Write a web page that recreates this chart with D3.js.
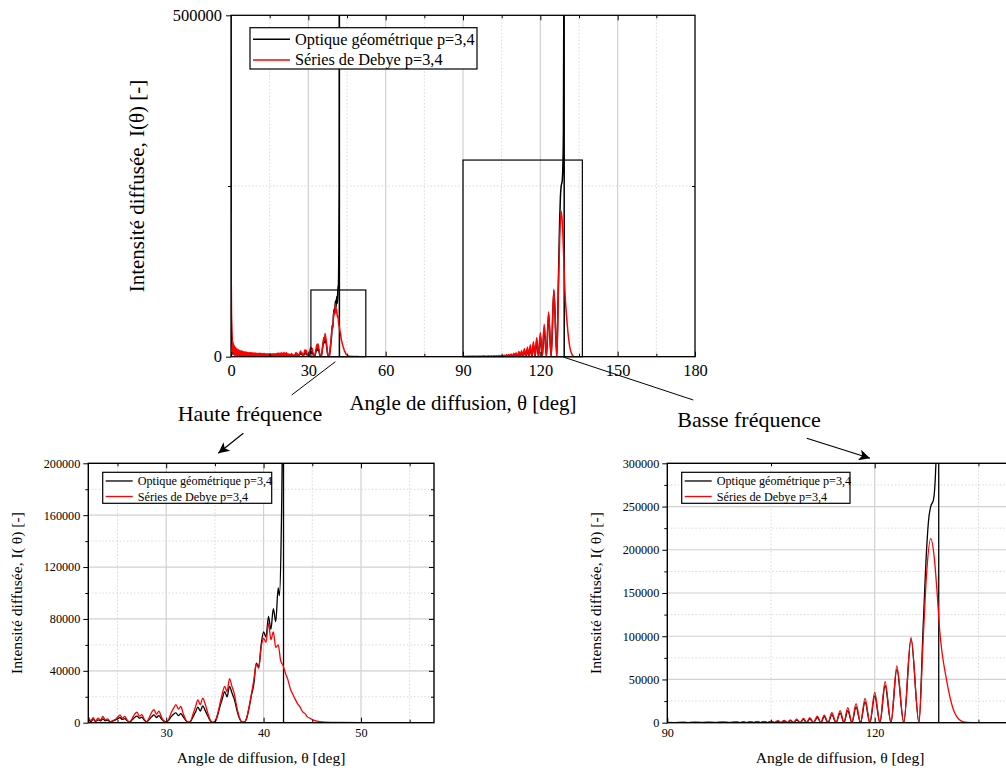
<!DOCTYPE html>
<html><head><meta charset="utf-8">
<script src="https://cdn.jsdelivr.net/npm/d3@7"></script>
<style>
body{margin:0;background:#fff}
svg{display:block}
svg text{font-family:"Liberation Serif","Times New Roman",Times,serif !important;fill:#000}
</style>
</head><body>
<svg id="c" width="1006" height="771"></svg>
<script>
// ---------------- DATA (angle in deg, intensity) ----------------
const seriesNames  = ["Optique géométrique p=3,4", "Séries de Debye p=3,4"];
const seriesColors = ["#000000", "#ff0000"];

// Debye series, forward region 0–22°
const debyeNear = [[0,212000],[0.05,150000],[0.1,110000],[0.2,65000],[0.3,45000],[0.4,33000],[0.5,26000],[0.62,6000],[0.75,22000],[0.88,4000],[1.0,19000],[1.12,3500],[1.25,16500],[1.38,3000],[1.5,15000],[1.62,2500],[1.75,13500],[1.88,2200],[2.0,12500],[2.25,2000],[2.5,11000],[2.75,1800],[3.0,10000],[3.25,1600],[3.5,9200],[3.75,1500],[4.0,8600],[4.25,1400],[4.5,8000],[4.75,1300],[5.0,7600],[5.25,1200],[5.5,7200],[5.75,1100],[6.0,6900],[6.25,1000],[6.5,6600],[6.75,1000],[7.0,6300],[7.25,900],[7.5,6100],[7.75,900],[8.0,5900],[8.25,900],[8.5,5700],[8.75,800],[9.0,5500],[9.25,800],[9.5,5400],[9.75,800],[10.0,5200],[10.25,800],[10.5,5100],[10.75,700],[11.0,5000],[11.25,700],[11.5,4900],[11.75,700],[12.0,4800],[12.25,700],[12.5,4700],[12.75,700],[13.0,4600],[13.25,600],[13.5,4500],[13.75,600],[14.0,4500],[14.25,600],[14.5,4400],[14.75,600],[15.0,4400],[15.25,600],[15.5,4300],[15.75,500],[16.0,4300],[16.25,500],[16.5,4400],[16.75,500],[17.0,4500],[17.25,500],[17.5,4800],[17.75,500],[18.0,5200],[18.25,500],[18.5,5600],[18.75,500],[19.0,5000],[19.25,400],[19.5,6000],[19.75,500],[20.0,5200],[20.25,400],[20.5,6500],[20.75,500],[21.0,5500],[21.25,400],[21.5,6000],[21.75,600]];

// Debye series, high-frequency region 22–90°
const debyeHF = [[22.0,4200],[22.25,1500],[22.5,3800],[22.75,1200],[23.0,3500],[23.25,2000],[23.5,4800],[23.75,2200],[24.0,3000],[24.25,800],[24.5,1500],[24.75,2500],[25.0,4200],[25.25,6000],[25.5,3500],[25.75,4800],[26.0,1800],[26.25,600],[26.5,3200],[26.75,6500],[27.0,8200],[27.25,5000],[27.5,6200],[27.75,2500],[28.0,800],[28.25,3800],[28.5,8000],[28.75,10000],[29.0,6500],[29.25,9000],[29.5,4500],[29.75,1500],[30.0,600],[30.25,2500],[30.5,7500],[30.75,11000],[31.0,14000],[31.25,10500],[31.5,12500],[31.75,7000],[32.0,2500],[32.25,400],[32.5,1200],[32.75,6500],[33.0,12000],[33.25,17500],[33.5,14000],[33.75,19000],[34.0,14500],[34.25,8000],[34.5,2500],[34.75,200],[35.0,800],[35.25,6000],[35.5,14000],[35.75,22000],[36.0,28000],[36.25,24000],[36.5,34000],[36.75,28000],[37.0,22000],[37.25,12000],[37.5,4500],[37.75,800],[38.0,500],[38.25,3500],[38.5,12000],[38.75,22000],[39.0,33000],[39.25,45000],[39.5,42000],[39.75,58000],[40.0,65000],[40.25,62000],[40.5,77000],[40.75,64000],[41.0,70000],[41.25,58000],[41.5,60000],[41.75,48000],[42.0,44000],[42.25,38000],[42.5,33000],[42.75,26000],[43.0,22000],[43.25,18000],[43.5,14500],[43.75,12000],[44.0,8500],[44.25,7000],[44.5,4500],[44.75,3500],[45.0,2400],[45.5,1200],[46.0,600],[47.0,250],[48.0,150],[50.0,100],[55.0,80],[60.0,60],[70.0,50],[80.0,50],[89.5,60]];

// Debye series, low-frequency region 90–180°
const debyeLF = [[90,300],[91,150],[92,400],[93,200],[94,500],[95,250],[96,600],[97,300],[98,700],[99,300],[100,900],[100.5,200],[101,1000],[101.5,200],[102,1200],[102.5,200],[103,1400],[103.5,200],[104,1600],[104.5,200],[105,1900],[105.5,200],[106,2300],[106.45,150],[106.9,2800],[107.35,150],[107.8,3300],[108.25,100],[108.7,4000],[109.2,100],[109.7,5000],[110.15,100],[110.6,5800],[111.15,80],[111.7,7700],[112.2,60],[112.7,8800],[113.25,50],[113.8,11500],[114.4,40],[115,13900],[115.55,30],[116.1,17400],[116.7,20],[117.3,22000],[117.95,10],[118.6,28200],[119.3,0],[120,35100],[120.75,0],[121.5,47400],[122.35,0],[123.2,65600],[124.2,0],[125.25,98700],[126.4,0],[127.0,95000],[127.5,172000],[128.1,213000],[128.6,192000],[129.0,153000],[129.4,107000],[130.4,49000],[131.4,14700],[132.3,3000],[133,500],[134,100],[136,20],[140,0],[180,0]];

// Geometrical optics, forward region 0–22°
const geoNear = [[0,900000],[0.04,150000],[0.1,60000],[0.25,30000],[0.5,15000],[0.75,3000],[1,12000],[1.5,2000],[2,9000],[2.5,1500],[3,7500],[3.5,1200],[4,6500],[4.5,1000],[5,5800],[5.5,900],[6,5200],[6.5,800],[7,4800],[7.5,700],[8,4400],[8.5,700],[9,4100],[9.5,600],[10,3900],[10.5,600],[11,3700],[11.5,600],[12,3500],[12.5,500],[13,3300],[13.5,500],[14,3200],[14.5,500],[15,3100],[15.5,500],[16,3000],[16.5,500],[17,3000],[17.5,400],[18,3100],[18.5,400],[19,3200],[19.5,400],[20,3200],[20.5,400],[21,3300],[21.5,400]];

// Geometrical optics, high-frequency region 22–90°
const geoHF = [[22.0,2500],[22.25,800],[22.5,2500],[22.75,1000],[23.0,2200],[23.25,1500],[23.5,3000],[23.75,1500],[24.0,2000],[24.25,600],[24.5,1200],[24.75,2000],[25.0,3000],[25.25,4000],[25.5,2500],[25.75,3200],[26.0,1500],[26.25,500],[26.5,2200],[26.75,4000],[27.0,5000],[27.25,3500],[27.5,4200],[27.75,2000],[28.0,700],[28.25,2500],[28.5,4500],[28.75,6000],[29.0,4000],[29.25,5500],[29.5,3000],[29.75,1200],[30.0,500],[30.25,2000],[30.5,4500],[30.75,6500],[31.0,7500],[31.25,5500],[31.5,7000],[31.75,4500],[32.0,1800],[32.25,300],[32.5,1000],[32.75,4500],[33.0,8000],[33.25,12000],[33.5,9000],[33.75,13000],[34.0,9500],[34.25,5500],[34.5,1800],[34.75,200],[35.0,700],[35.25,5000],[35.5,12000],[35.75,18000],[36.0,24000],[36.25,20000],[36.5,28000],[36.75,23000],[37.0,18000],[37.25,10000],[37.5,3800],[37.75,700],[38.0,500],[38.25,3000],[38.5,11000],[38.75,21000],[39.0,30000],[39.25,46000],[39.5,43000],[39.75,60000],[40.0,70000],[40.25,66000],[40.5,82000],[40.75,72000],[41.0,88000],[41.25,78000],[41.5,104000],[41.62,98000],[41.8,140000],[41.95,250000],[42.04,900000],[42.05,0],[89.5,0]];

// Geometrical optics, low-frequency region 90–180°
const geoLF = [[90,200],[91,100],[92,300],[93,150],[94,350],[95,200],[96,450],[97,200],[98,500],[99,200],[100,700],[100.5,150],[101,800],[101.5,150],[102,900],[102.5,150],[103,1000],[103.5,150],[104,1200],[104.5,150],[105,1400],[105.5,150],[106,1600],[106.45,100],[106.9,2000],[107.35,100],[107.8,2400],[108.25,80],[108.7,3000],[109.2,80],[109.7,3800],[110.15,60],[110.6,4500],[111.15,50],[111.7,6000],[112.2,40],[112.7,7000],[113.25,30],[113.8,9000],[114.4,20],[115,11000],[115.55,20],[116.1,14000],[116.7,10],[117.3,18000],[117.95,0],[118.6,24000],[119.3,0],[120,31000],[120.75,0],[121.5,43000],[122.35,0],[123.2,62000],[124.2,0],[125.25,97000],[126.4,0],[127.0,110000],[127.5,200000],[127.8,235000],[128.1,250000],[128.5,258000],[128.8,290000],[128.95,330000],[129.1,500000],[129.25,900000],[129.26,0],[180,0]];

// Tick values
const mainXTicks = [0,30,60,90,120,150,180], mainXMinor = [15,45,75,105,135,165];
const mainYTicks = [0,500000], mainYMinor = [250000];
const hfXTicks = [30,40,50], hfXMinor = [25,35,45,55];
const hfYTicks = [0,40000,80000,120000,160000,200000], hfYMinor = [20000,60000,100000,140000,180000];
const lfXTicks = [90,120,150], lfXMinor = [105,135];
const lfYTicks = [0,50000,100000,150000,200000,250000,300000], lfYMinor = [25000,75000,125000,175000,225000,275000];

// Zoom regions marked on the main chart: [θmin, θmax, Imax]
const zoomBoxes = [[31,52.3,97700],[90,136.3,288000]];

// ---------------- DRAWING ----------------
const FONT = '"Liberation Serif","Times New Roman",Times,serif';
const geo = [...geoNear, ...geoHF, ...geoLF];
const debye = [...debyeNear, ...debyeHF, ...debyeLF];
const svg = d3.select("#c");
const defs = svg.append("defs");
defs.append("marker").attr("id","arr").attr("viewBox","0 0 10 10").attr("refX",10).attr("refY",5)
  .attr("markerWidth",17).attr("markerHeight",11).attr("markerUnits","userSpaceOnUse").attr("orient","auto")
  .append("path").attr("d","M0,0L10,5L0,10L2.5,5Z").attr("fill","#000");

function panel(o){
  const x = d3.scaleLinear(o.xDomain,[o.left,o.right]);
  const y = d3.scaleLinear(o.yDomain,[o.bottom,o.top]);
  const g = svg.append("g");
  defs.append("clipPath").attr("id","clip"+o.id).append("rect")
    .attr("x",o.left).attr("y",o.top).attr("width",o.right-o.left).attr("height",o.bottom-o.top);
  const inX = v => v>o.xDomain[0] && v<o.xDomain[1];
  const inY = v => v>o.yDomain[0] && v<o.yDomain[1];
  // grid
  const grid = g.append("g");
  grid.selectAll(".gxm").data(o.xMinor.filter(inX)).join("line")
    .attr("x1",d=>x(d)).attr("x2",d=>x(d)).attr("y1",o.top).attr("y2",o.bottom)
    .attr("stroke","#d8d8d8").attr("stroke-width",1).attr("stroke-dasharray","1.5,2");
  grid.selectAll(".gym").data(o.yMinor.filter(inY)).join("line")
    .attr("y1",d=>y(d)).attr("y2",d=>y(d)).attr("x1",o.left).attr("x2",o.right)
    .attr("stroke","#d8d8d8").attr("stroke-width",1).attr("stroke-dasharray","1.5,2");
  grid.selectAll(".gx").data(o.xTicks.filter(inX)).join("line")
    .attr("x1",d=>x(d)).attr("x2",d=>x(d)).attr("y1",o.top).attr("y2",o.bottom)
    .attr("stroke","#d0d0d0").attr("stroke-width",1.2);
  if (o.yGrid) grid.selectAll(".gy").data(o.yTicks.filter(inY)).join("line")
    .attr("y1",d=>y(d)).attr("y2",d=>y(d)).attr("x1",o.left).attr("x2",o.right)
    .attr("stroke","#d0d0d0").attr("stroke-width",1.2);
  // curves
  const line = d3.line().x(d=>x(d[0])).y(d=>y(Math.min(d[1],o.yDomain[1]*3))).curve(d3.curveMonotoneX);
  const cg = g.append("g").attr("clip-path","url(#clip"+o.id+")");
  [geo, debye].forEach((s,i)=>{
    cg.append("path").datum(s).attr("d",line).attr("fill","none")
      .attr("stroke",seriesColors[i]).attr("stroke-width",o.lw).attr("stroke-linejoin","round");
  });
  // zoom boxes
  if (o.boxes) g.selectAll(".zb").data(o.boxes).join("rect")
    .attr("x",d=>x(d[0])).attr("y",d=>y(d[2])).attr("width",d=>x(d[1])-x(d[0])).attr("height",d=>y(0)-y(d[2]))
    .attr("fill","none").attr("stroke","#000").attr("stroke-width",1.2);
  // axes
  const style = sel => { sel.select(".domain").remove(); sel.attr("font-family",FONT).attr("font-size",o.tickFont);
    sel.selectAll("text").style("font-size",o.tickFont+"px").style("font-family",FONT);
    sel.selectAll("line").attr("stroke","#000").attr("stroke-width",1); };
  const fmt = d3.format("d");
  g.append("g").attr("transform",`translate(0,${o.bottom})`)
    .call(d3.axisBottom(x).tickValues(o.xTicks.filter(v=>v>=o.xDomain[0]&&v<=o.xDomain[1])).tickSize(-o.tick).tickPadding(o.xPad).tickFormat(fmt)).call(style);
  g.append("g").attr("transform",`translate(0,${o.bottom})`)
    .call(d3.axisBottom(x).tickValues(o.xMinor.filter(inX)).tickSize(-o.tick*0.6).tickFormat("")).call(style);
  g.append("g").attr("transform",`translate(0,${o.top})`)
    .call(d3.axisTop(x).tickValues(o.xTicks.filter(inX)).tickSize(-o.tick).tickFormat("")).call(style);
  g.append("g").attr("transform",`translate(0,${o.top})`)
    .call(d3.axisTop(x).tickValues(o.xMinor.filter(inX)).tickSize(-o.tick*0.6).tickFormat("")).call(style);
  g.append("g").attr("transform",`translate(${o.left},0)`)
    .call(d3.axisLeft(y).tickValues(o.yTicks).tickSize(o.tick).tickPadding(o.yPad).tickFormat(fmt)).call(style);
  g.append("g").attr("transform",`translate(${o.left},0)`)
    .call(d3.axisLeft(y).tickValues(o.yMinor).tickSize(o.tick*0.6).tickFormat("")).call(style);
  g.append("g").attr("transform",`translate(${o.right},0)`)
    .call(d3.axisRight(y).tickValues(o.yTicks.filter(inY)).tickSize(-o.tick).tickFormat("")).call(style);
  g.append("g").attr("transform",`translate(${o.right},0)`)
    .call(d3.axisRight(y).tickValues(o.yMinor).tickSize(-o.tick*0.6).tickFormat("")).call(style);
  // frame
  g.append("rect").attr("x",o.left).attr("y",o.top).attr("width",o.right-o.left).attr("height",o.bottom-o.top)
    .attr("fill","none").attr("stroke","#000").attr("stroke-width",o.frame);
  // titles
  g.append("text").attr("x",(o.left+o.right)/2).attr("y",o.xTitleY).attr("text-anchor","middle")
    .style("font-family",FONT).style("font-size",o.titleFont+"px").text("Angle de diffusion, θ [deg]");
  g.append("text").attr("transform",`translate(${o.yTitleX},${(o.top+o.bottom)/2}) rotate(-90)`).attr("text-anchor","middle")
    .style("font-family",FONT).style("font-size",o.titleFont+"px").text(o.yTitle);
  // legend
  const L = o.legend;
  const lg = g.append("g");
  lg.append("rect").attr("x",L.x).attr("y",L.y).attr("width",L.w).attr("height",L.h)
    .attr("fill","#fff").attr("stroke","#000").attr("stroke-width",1.2);
  seriesNames.forEach((n,i)=>{
    const cy = L.y + L.h*(0.28 + i*0.5);
    lg.append("line").attr("x1",L.x+3).attr("x2",L.x+3+L.len).attr("y1",cy).attr("y2",cy)
      .attr("stroke",seriesColors[i]).attr("stroke-width",o.lw);
    lg.append("text").attr("x",L.x+8+L.len).attr("y",cy).attr("dy","0.33em")
      .style("font-family",FONT).style("font-size",L.font+"px").text(n);
  });
  return {x,y};
}

const main = panel({id:"main", xDomain:[0,180], yDomain:[0,500000], left:231, right:695, top:15.3, bottom:356.7,
  xTicks:mainXTicks, xMinor:mainXMinor, yTicks:mainYTicks, yMinor:mainYMinor, yGrid:false,
  lw:1.5, tick:5, xPad:8, yPad:4, tickFont:16.4, titleFont:21, frame:1.3, xTitleY:410, yTitleX:144,
  yTitle:"Intensité diffusée, I(θ) [-]", boxes:zoomBoxes,
  legend:{x:250,y:27.7,w:227,h:41.3,len:37,font:16.3}});

panel({id:"hf", xDomain:[22,57.5], yDomain:[0,200000], left:88.3, right:434, top:463.3, bottom:722.7,
  xTicks:hfXTicks, xMinor:hfXMinor, yTicks:hfYTicks, yMinor:hfYMinor, yGrid:true,
  lw:1.3, tick:5, xPad:6, yPad:3, tickFont:12.2, titleFont:15.6, frame:1.4, xTitleY:763, yTitleX:22,
  yTitle:"Intensité diffusée, I( θ) [-]",
  legend:{x:102.7,y:472.3,w:169,h:31,len:27,font:12.2}});

panel({id:"lf", xDomain:[90,140], yDomain:[0,300000], left:667.3, right:1013, top:463.3, bottom:722.7,
  xTicks:lfXTicks, xMinor:lfXMinor, yTicks:lfYTicks, yMinor:lfYMinor, yGrid:true,
  lw:1.3, tick:5, xPad:6, yPad:3, tickFont:12.2, titleFont:15.6, frame:1.4, xTitleY:763, yTitleX:601,
  yTitle:"Intensité diffusée, I( θ) [-]",
  legend:{x:681.7,y:472.3,w:168.3,h:31,len:27,font:12.2}});

// annotations
const ann = svg.append("g");
ann.append("line").attr("x1",main.x(40.5)).attr("y1",361.7).attr("x2",291.7).attr("y2",395).attr("stroke","#000").attr("stroke-width",1);
ann.append("line").attr("x1",main.x(128.9)).attr("y1",357).attr("x2",693.3).attr("y2",400).attr("stroke","#000").attr("stroke-width",1);
ann.append("text").attr("x",250).attr("y",421).attr("text-anchor","middle").style("font-family",FONT).style("font-size","22px").text("Haute fréquence");
ann.append("text").attr("x",749).attr("y",427).attr("text-anchor","middle").style("font-family",FONT).style("font-size","22px").text("Basse fréquence");
ann.append("line").attr("x1",243.3).attr("y1",433.3).attr("x2",218.3).attr("y2",453.3).attr("stroke","#000").attr("stroke-width",1.2).attr("marker-end","url(#arr)");
ann.append("line").attr("x1",806.7).attr("y1",438.3).attr("x2",870).attr("y2",458.3).attr("stroke","#000").attr("stroke-width",1.2).attr("marker-end","url(#arr)");
</script>
</body></html>
